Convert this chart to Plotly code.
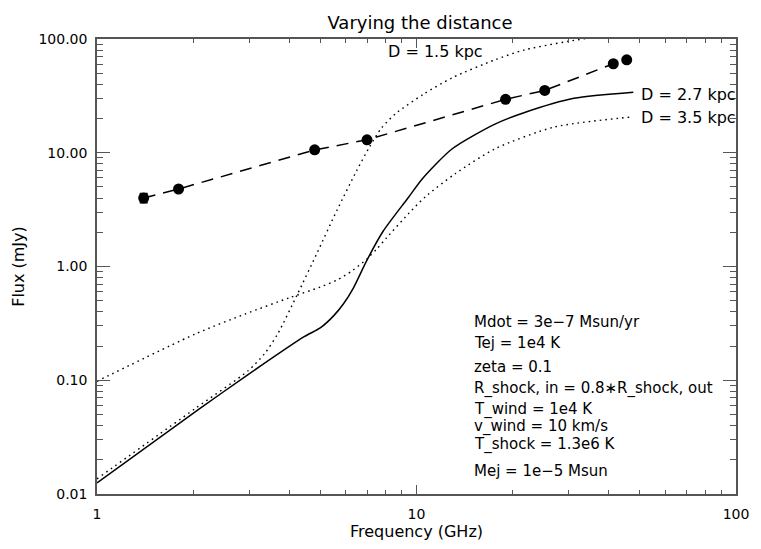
import numpy as np
import plotly.graph_objects as go

# ---- data ----
obs_freq = [1.4, 1.8, 4.8, 7.0, 19.0, 25.2, 41.3, 45.5]
obs_flux = [4.0, 4.8, 10.6, 13.0, 29.5, 35.3, 60.6, 65.6]
obs_err = [0.35, 0.0, 0.0, 0.0, 0.0, 0.0, 0.0, 0.0]

d27_freq = [1.0, 2.08, 2.97, 4.45, 5.01, 5.51, 5.91, 6.35, 6.98, 7.86, 9.39, 10.45, 12.94, 17.6, 21.8, 31.1, 47.7]
d27_flux = [0.01254, 0.0554, 0.1121, 0.2414, 0.29, 0.37, 0.47, 0.65, 1.121, 2.04, 3.98, 5.94, 10.84, 17.87, 22.6, 30.1, 34.1]

d15_freq = [1.0, 2.04, 2.97, 3.35, 3.68, 4.24, 4.89, 5.64, 6.50, 7.13, 7.77, 8.64, 10.5, 12.97, 17.6, 21.8, 34.1, 47.7]
d15_flux = [0.0136, 0.057, 0.121, 0.172, 0.2566, 0.571, 1.324, 3.13, 6.97, 11.27, 16.5, 22.3, 32.6, 45.8, 65.6, 80.2, 101.4, 112.7]

d35_freq = [1.0, 2.038, 2.909, 4.007, 5.0, 5.64, 6.3, 6.98, 7.5, 8.05, 9.48, 10.70, 13.25, 17.61, 26.99, 46.7]
d35_flux = [0.098, 0.2563, 0.3825, 0.5322, 0.66, 0.76, 0.92, 1.16, 1.42, 1.78, 2.949, 4.143, 6.568, 10.83, 16.83, 20.56]

y_tickvals = [0.01, 0.1, 1, 10, 100]
y_ticktext = ["0.01", "0.10", "1.00", "10.00", "100.00"]
x_tickvals = [1, 10, 100]
x_ticktext = ["1", "10", "100"]

labels = ["D = 1.5 kpc", "D = 2.7 kpc", "D = 3.5 kpc"]
params = ["Mdot = 3e\u22127 Msun/yr", "Tej = 1e4 K", "zeta = 0.1",
          "R_shock, in = 0.8\u2217R_shock, out", "T_wind = 1e4 K",
          "v_wind = 10 km/s", "T_shock = 1.3e6 K", "Mej = 1e\u22125 Msun"]

FONT = "DejaVu Sans"
AX = "#555555"

# plot-area geometry in page pixels (reference)
L, R, T, B = 97, 745, 39, 499
W, H = 761, 549
PW, PH = R - L, B - T

fig = go.Figure()
dotted = dict(color="black", width=1.4, dash="1.6px,4px", shape="spline", smoothing=0.7)
fig.add_trace(go.Scatter(x=d15_freq, y=d15_flux, mode="lines", line=dotted))
fig.add_trace(go.Scatter(x=d27_freq, y=d27_flux, mode="lines",
                         line=dict(color="black", width=1.5, shape="spline", smoothing=0.7)))
fig.add_trace(go.Scatter(x=d35_freq, y=d35_flux, mode="lines", line=dotted))
fig.add_trace(go.Scatter(x=obs_freq, y=obs_flux, mode="lines+markers",
                         line=dict(color="black", width=1.5, dash="12px,8px"),
                         marker=dict(color="black", size=11),
                         error_y=dict(type="data", array=obs_err, color="black", thickness=2, width=4)))

minor_vals = [m * 10 ** e for e in range(-2, 3) for m in range(2, 10)]

common = dict(type="log", showgrid=False, zeroline=False, showline=True, linecolor=AX, linewidth=1.5,
              mirror="ticks", ticks="inside", tickcolor=AX, tickwidth=1.2,
              tickfont=dict(family=FONT, size=14, color="black"))
fig.update_xaxes(**common, range=[0, 2], tickmode="array", tickvals=x_tickvals, ticktext=x_ticktext, ticklen=9,
                 minor=dict(ticks="inside", ticklen=4.5, tickcolor=AX, tickwidth=1.2, tickmode="array", tickvals=minor_vals, showgrid=False),
                 ticklabelstandoff=6,
                 title=dict(text="Frequency (GHz)", font=dict(family=FONT, size=16, color="black"), standoff=4))
fig.update_yaxes(**common, range=[-2, 2], tickmode="array", tickvals=y_tickvals, ticktext=y_ticktext, ticklen=13,
                 minor=dict(ticks="inside", ticklen=6.5, tickcolor=AX, tickwidth=1.2, tickmode="array", tickvals=minor_vals, showgrid=False),
                 ticklabelstandoff=5,
                 title=dict(text="Flux (mJy)", font=dict(family=FONT, size=16, color="black"), standoff=10))

anns = []
lab_pos = [(390, 52), (647, 95), (647, 118)]
for t, (px, py) in zip(labels, lab_pos):
    anns.append(dict(text=t, x=(px - L) / PW, y=(B - py) / PH, xref="paper", yref="paper",
                     xanchor="left", yanchor="middle", showarrow=False,
                     font=dict(family=FONT, size=16, color="black")))
par_base = [330, 351.7, 375.7, 397.7, 418.5, 436.3, 454, 480.7]
PF = 15
for t, pb in zip(params, par_base):
    py = pb - 0.345 * PF
    anns.append(dict(text=t, x=(477 - L) / PW, y=(B - py) / PH, xref="paper", yref="paper",
                     xanchor="left", yanchor="middle", showarrow=False,
                     font=dict(family=FONT, size=PF, color="black")))

fig.update_layout(
    width=W, height=H, autosize=False,
    margin=dict(l=L, r=W - R, t=T, b=H - B),
    paper_bgcolor="white", plot_bgcolor="white",
    showlegend=False,
    title=dict(text="Varying the distance", x=420 / W, xanchor="center", y=1 - 23 / H, yanchor="middle",
               font=dict(family=FONT, size=18, color="black")),
    annotations=anns,
)

fig.write_html("out.html")
